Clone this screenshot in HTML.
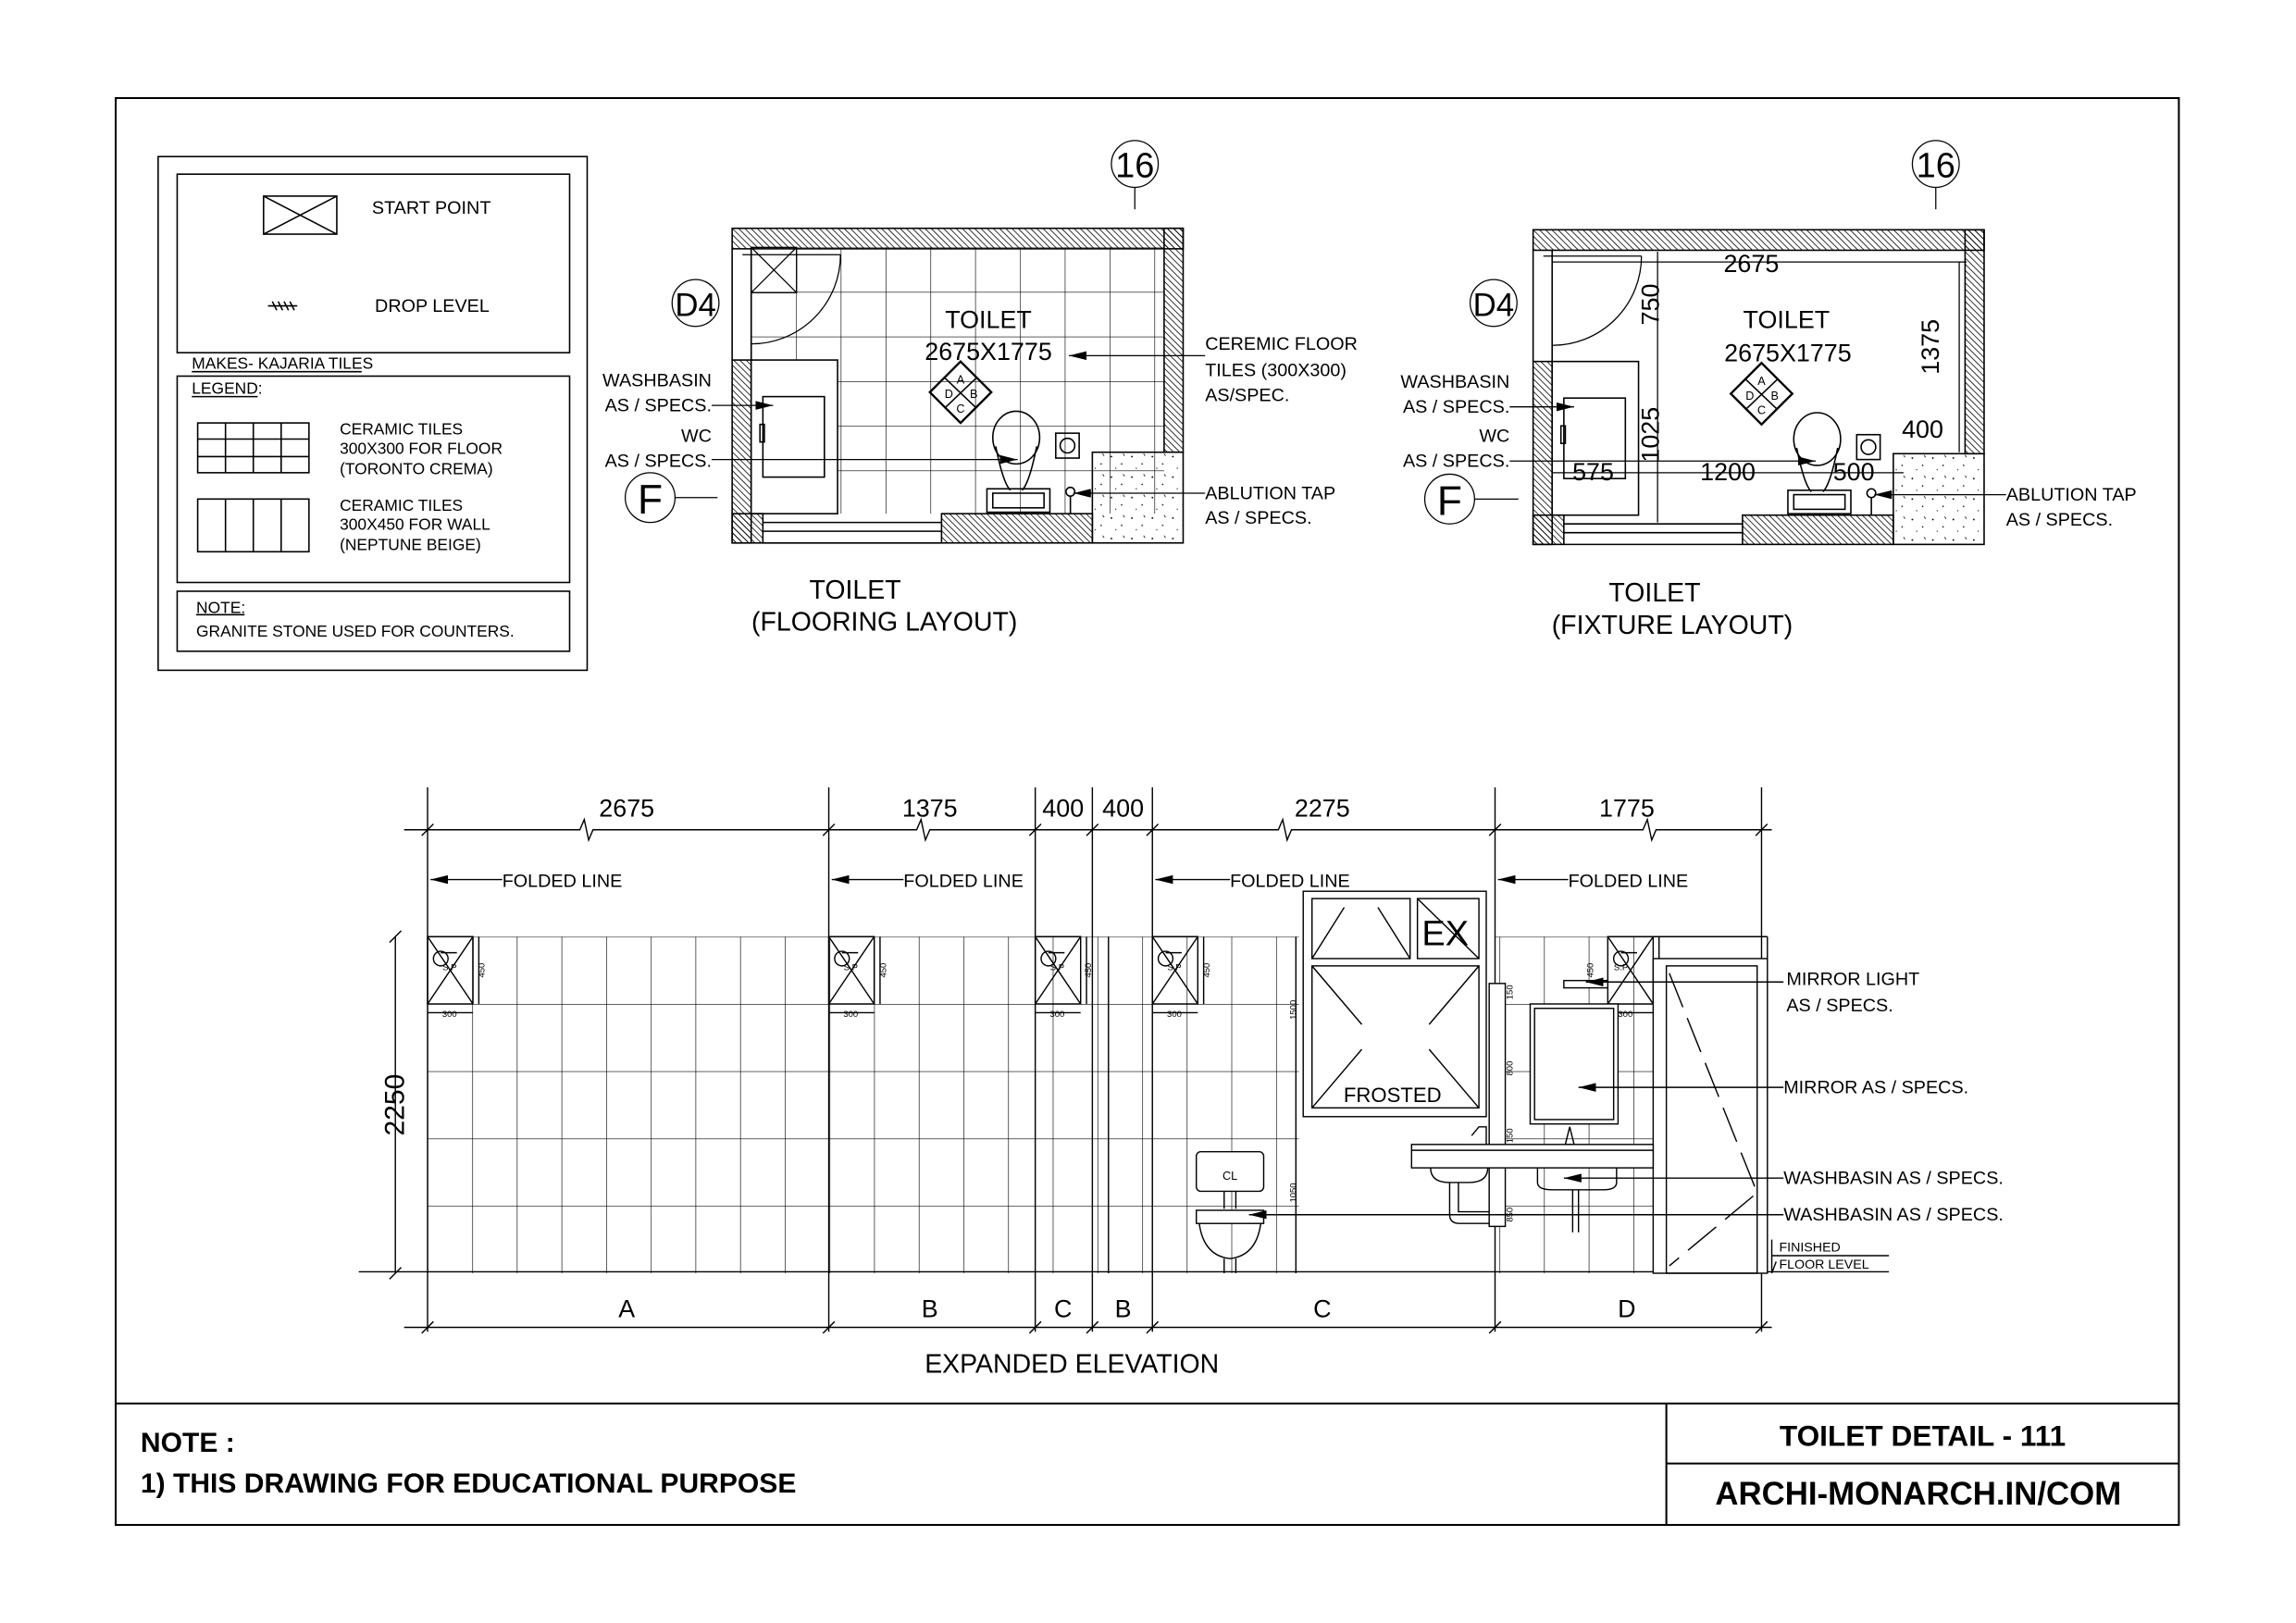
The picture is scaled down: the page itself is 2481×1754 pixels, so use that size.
<!DOCTYPE html>
<html><head><meta charset="utf-8"><style>
html,body{margin:0;padding:0;background:#fff}
svg{display:block}
text{font-family:"Liberation Sans Narrow","Liberation Sans",sans-serif;fill:#000}
.b{font-family:"Liberation Sans",sans-serif;font-weight:bold}
</style></head><body>
<svg width="2481" height="1754" viewBox="0 0 1568 1109" preserveAspectRatio="none" xmlns="http://www.w3.org/2000/svg">
<defs>
<pattern id="h" width="3" height="3" patternUnits="userSpaceOnUse" patternTransform="rotate(-45)"><line x1="0" y1="0" x2="0" y2="3" stroke="#000" stroke-width="1"/></pattern>
<pattern id="g" width="14" height="14" patternUnits="userSpaceOnUse"><circle cx="3" cy="4" r="0.6"/><circle cx="10" cy="9" r="0.5"/><circle cx="6" cy="12" r="0.4"/><path d="M11 2 l1 1.5" stroke="#000" stroke-width="0.5"/></pattern>
<pattern id="ft" x="513" y="169" width="30.6" height="30.5" patternUnits="userSpaceOnUse"><path d="M0 0V30.5M0 0H30.6" stroke="#000" stroke-width="0.8" fill="none"/></pattern>
<pattern id="et" x="292" y="640" width="30.5" height="46" patternUnits="userSpaceOnUse"><path d="M0 0V46M0 0H30.5" stroke="#000" stroke-width="0.8" fill="none"/></pattern>
<marker id="ar" markerWidth="12" markerHeight="6" refX="12" refY="3" orient="auto" markerUnits="userSpaceOnUse"><path d="M0 0L12 3L0 6z" fill="#000" stroke="none"/></marker>
<g id="plan" fill="none" stroke="#000" stroke-width="1">
 <rect x="500" y="156" width="308" height="14" fill="url(#h)"/>
 <rect x="795" y="156" width="13" height="153" fill="url(#h)"/>
 <rect x="500" y="246" width="13" height="125" fill="url(#h)"/>
 <rect x="643" y="351" width="103" height="20" fill="url(#h)"/>
 <rect x="500" y="351" width="21" height="20" fill="url(#h)"/>
 <rect x="746" y="309" width="62" height="62" fill="url(#g)"/>
 <path d="M500 170V246M521 357H643M521 363H643M521 371H643M513 170V246"/>
 <rect x="513" y="246" width="59" height="105"/>
 <rect x="521" y="271" width="42" height="55"/>
 <rect x="519" y="290" width="3" height="12"/>
 <path d="M507 174H574M574 174A61 61 0 0 1 513 235" stroke-width="0.8"/>
 <ellipse cx="694" cy="299" rx="16" ry="18"/>
 <path d="M680 305Q685 330 690 335M708 305Q703 330 698 335"/>
 <rect x="674" y="334" width="43" height="16"/><rect x="678" y="337" width="35" height="10"/>
 <rect x="721" y="296" width="16" height="17"/><circle cx="729" cy="304.5" r="5"/>
 <circle cx="731" cy="336" r="3"/><path d="M731 339V351"/>
 <path d="M656 247L677 268L656 289L635 268Z" stroke-width="1.5"/>
 <path d="M645 258L667 279M667 258L645 279"/>
</g>
</defs>

<!-- border -->
<rect x="79" y="67" width="1409" height="975" fill="none" stroke="#000" stroke-width="1.3"/>
<path d="M79 959H1488M1138 959V1042M1138 1000H1488" stroke="#000" stroke-width="1.3"/>
<text x="96" y="992" class="b" font-size="19">NOTE :</text>
<text x="96" y="1020" class="b" font-size="19">1) THIS DRAWING FOR EDUCATIONAL PURPOSE</text>
<text x="1313" y="988" class="b" font-size="20" text-anchor="middle">TOILET DETAIL - 111</text>
<text x="1310" y="1028" class="b" font-size="22" text-anchor="middle">ARCHI-MONARCH.IN/COM</text>

<!-- legend -->
<g fill="none" stroke="#000" stroke-width="1">
<rect x="108" y="107" width="293" height="351"/>
<rect x="121" y="119" width="268" height="122"/>
<rect x="121" y="257" width="268" height="141"/>
<rect x="121" y="404" width="268" height="41"/>
<rect x="180" y="134" width="50" height="26"/><path d="M180 134L230 160M230 134L180 160"/>
<path d="M183 209H203M186 206l3 6M190 206l3 6M194 206l3 6M198 206l3 6"/>
<rect x="135" y="289" width="76" height="34"/><path d="M154 289V323M173 289V323M192 289V323M135 300H211M135 312H211"/>
<rect x="135" y="341" width="76" height="36"/><path d="M154 341V377M173 341V377M192 341V377"/>
<path d="M131 254H247M131 271H176M134 420H167"/>
</g>
<g font-size="12.5">
<text x="254" y="146">START POINT</text>
<text x="256" y="213">DROP LEVEL</text>
<text x="131" y="252" font-size="11">MAKES- KAJARIA TILES</text>
<text x="131" y="269" font-size="11">LEGEND:</text>
<g font-size="11"><text x="232" y="297">CERAMIC TILES</text><text x="232" y="310">300X300 FOR FLOOR</text><text x="232" y="324">(TORONTO CREMA)</text>
<text x="232" y="349">CERAMIC TILES</text><text x="232" y="362">300X450 FOR WALL</text><text x="232" y="376">(NEPTUNE BEIGE)</text>
<text x="134" y="419">NOTE:</text><text x="134" y="435">GRANITE STONE USED FOR COUNTERS.</text></g>
</g>

<!-- flooring plan -->
<rect x="572" y="169" width="223" height="182" fill="url(#ft)"/>
<rect x="513" y="169" width="59" height="77" fill="url(#ft)"/>
<use href="#plan"/>
<g fill="none" stroke="#000" stroke-width="0.8">
<rect x="513" y="169" width="31" height="31"/><path d="M513 169L544 200M544 169L513 200"/>
<circle cx="775" cy="112" r="16"/><path d="M775 128V143"/>
<circle cx="475" cy="207" r="16"/><circle cx="444" cy="340" r="17"/><path d="M461 340H490"/>
<path d="M486 277H528" marker-end="url(#ar)"/>
<path d="M486 314H695" marker-end="url(#ar)"/>
<path d="M823 243H730" marker-end="url(#ar)"/>
<path d="M823 337H733" marker-end="url(#ar)"/>
</g>
<g font-size="17"><text x="775" y="121" text-anchor="middle" font-size="24">16</text>
<text x="475" y="216" text-anchor="middle" font-size="22">D4</text>
<text x="444" y="351" text-anchor="middle" font-size="28">F</text>
<text x="675" y="224" text-anchor="middle">TOILET</text><text x="675" y="246" text-anchor="middle">2675X1775</text></g>
<g font-size="12.5"><text x="486" y="264" text-anchor="end">WASHBASIN</text><text x="486" y="281" text-anchor="end">AS / SPECS.</text>
<text x="486" y="302" text-anchor="end">WC</text><text x="486" y="319" text-anchor="end">AS / SPECS.</text>
<text x="823" y="239">CEREMIC FLOOR</text><text x="823" y="257">TILES (300X300)</text><text x="823" y="274">AS/SPEC.</text>
<text x="823" y="341">ABLUTION TAP</text><text x="823" y="358">AS / SPECS.</text></g>
<g font-size="8" text-anchor="middle"><text x="656" y="262">A</text><text x="648" y="272">D</text><text x="665" y="272">B</text><text x="656" y="282">C</text></g>
<g font-size="18" text-anchor="middle"><text x="584" y="409">TOILET</text><text x="604" y="431">(FLOORING LAYOUT)</text></g>

<!-- fixture plan -->
<use href="#plan" transform="translate(547,1)"/>
<g fill="none" stroke="#000" stroke-width="0.8">
<path d="M1060 173V356M1132 172V357M1060 179H1343M1338 179V309M1060 323H1300"/>
<circle cx="1322" cy="112" r="16"/><path d="M1322 128V143"/>
<circle cx="1020" cy="207" r="16"/><circle cx="990" cy="341" r="17"/><path d="M1007 341H1037"/>
<path d="M1031 278H1075" marker-end="url(#ar)"/>
<path d="M1031 315H1240" marker-end="url(#ar)"/>
<path d="M1370 338H1280" marker-end="url(#ar)"/>
</g>
<g font-size="17"><text x="1322" y="121" text-anchor="middle" font-size="24">16</text>
<text x="1020" y="216" text-anchor="middle" font-size="22">D4</text>
<text x="990" y="352" text-anchor="middle" font-size="28">F</text>
<text x="1220" y="224" text-anchor="middle">TOILET</text><text x="1221" y="247" text-anchor="middle">2675X1775</text>
<text x="1196" y="186" text-anchor="middle">2675</text>
<text x="1088" y="328" text-anchor="middle">575</text><text x="1180" y="328" text-anchor="middle">1200</text><text x="1266" y="328" text-anchor="middle">500</text><text x="1313" y="299" text-anchor="middle">400</text>
<text transform="translate(1133,208) rotate(-90)" text-anchor="middle">750</text>
<text transform="translate(1324,237) rotate(-90)" text-anchor="middle">1375</text>
<text transform="translate(1133,297) rotate(-90)" text-anchor="middle">1025</text></g>
<g font-size="12.5"><text x="1031" y="265" text-anchor="end">WASHBASIN</text><text x="1031" y="282" text-anchor="end">AS / SPECS.</text>
<text x="1031" y="302" text-anchor="end">WC</text><text x="1031" y="319" text-anchor="end">AS / SPECS.</text>
<text x="1370" y="342">ABLUTION TAP</text><text x="1370" y="359">AS / SPECS.</text></g>
<g font-size="8" text-anchor="middle"><text x="1203" y="263">A</text><text x="1195" y="273">D</text><text x="1212" y="273">B</text><text x="1203" y="283">C</text></g>
<g font-size="18" text-anchor="middle"><text x="1130" y="411">TOILET</text><text x="1142" y="433">(FIXTURE LAYOUT)</text></g>

<!-- elevation -->
<rect x="292" y="640" width="595" height="230" fill="url(#et)"/>
<rect x="1021" y="640" width="108" height="230" fill="url(#et)"/>
<g fill="none" stroke="#000" stroke-width="0.9">
<path d="M292 538V910M566 538V910M707 538V910M746 538V910M787 538V910M1021 538V910M1203 538V910"/>
<path d="M276 567H396L399 560L402 574L405 567H626L629 560L632 574L635 567H873L876 560L879 574L882 567H1122L1125 560L1128 574L1131 567H1210"/>
<path d="M276 907H1210M270 640V870M245 869H1290M757 640V870M1129 640H1207M1207 640V870"/>
<path d="M288 571l8-8M562 571l8-8M703 571l8-8M742 571l8-8M783 571l8-8M1017 571l8-8M1199 571l8-8M288 911l8-8M562 911l8-8M703 911l8-8M742 911l8-8M783 911l8-8M1017 911l8-8M1199 911l8-8M266 644l8-8M266 874l8-8"/>
<path d="M343 601H294" marker-end="url(#ar)"/>
<path d="M617 601H568" marker-end="url(#ar)"/>
<path d="M840 601H789" marker-end="url(#ar)"/>
<path d="M1071 601H1023" marker-end="url(#ar)"/>
<!-- start points -->
<g id="sp"><rect x="292" y="640" width="31" height="46"/><path d="M292 640L323 686M323 640L292 686M327 640V686M292 692H323"/><circle cx="301" cy="655" r="5"/><path d="M301 651H312"/></g>
<use href="#sp" transform="translate(274,0)"/><use href="#sp" transform="translate(415,0)"/><use href="#sp" transform="translate(495,0)"/><use href="#sp" transform="translate(806,0)"/>
<!-- window -->
<rect x="890" y="609" width="125" height="154" fill="#fff"/>
<rect x="896" y="614" width="67" height="41"/><rect x="968" y="614" width="42" height="41"/><rect x="896" y="660" width="114" height="97"/>
<path d="M896 655L918 620M963 655L941 620M968 614L1010 655M896 660L930 700M1010 660L976 700M896 757L930 717M1010 757L976 717"/>
<path d="M885 640V870"/>
<!-- door -->
<rect x="1129" y="655" width="78" height="215" fill="#fff"/><rect x="1138" y="660" width="62" height="210"/>
<path d="M1140 665L1200 815L1140 865" stroke-dasharray="25 8"/>
<!-- mirror -->
<rect x="1045" y="686" width="60" height="82" fill="#fff"/><rect x="1048" y="689" width="54" height="76"/>
<rect x="1068" y="670" width="30" height="5" fill="#fff"/>
<rect x="1017" y="672" width="11" height="166" fill="#fff"/>
<!-- counter + basins -->
<rect x="964" y="782" width="165" height="16" fill="#fff"/><path d="M964 786H1129"/>
<path d="M977 798Q977 808 990 808H1003Q1016 808 1016 798M1050 798V808Q1050 813 1060 813H1095Q1104 813 1104 808V798"/>
<path d="M990 808V830Q990 836 997 836H1017M996 808V828H1017M1074 813V842M1078 813V842"/>
<path d="M1005 776L1010 770H1015V782M1072 770L1075 782H1069Z"/>
<!-- WC -->
<rect x="817" y="787" width="46" height="27" rx="3" fill="#fff"/><path d="M836 814V826M844 814V826"/>
<rect x="817" y="827" width="46" height="9" fill="#fff"/><path d="M819 836Q822 858 840 860Q858 858 861 836"/>
<path d="M836 860V870M844 860V870"/>
<path d="M1210 847V870M1210 858H1290M1213 862l-3 8"/>
<path d="M1218 671H1083" marker-end="url(#ar)"/>
<path d="M1218 743H1078" marker-end="url(#ar)"/>
<path d="M1218 805H1068" marker-end="url(#ar)"/>
<path d="M1218 830H853" marker-end="url(#ar)"/>
</g>
<g font-size="6" text-anchor="middle"><text x="307" y="663">S.P</text><text x="581" y="663">S.P</text><text x="722" y="663">S.P</text><text x="802" y="663">S.P</text><text x="1107" y="663">S.P</text>
<text x="307" y="695">300</text><text x="581" y="695">300</text><text x="722" y="695">300</text><text x="802" y="695">300</text><text x="1110" y="695">300</text>
<text transform="translate(331,663) rotate(-90)">450</text><text transform="translate(605,663) rotate(-90)">450</text><text transform="translate(745,663) rotate(-90)">450</text><text transform="translate(826,663) rotate(-90)">450</text><text transform="translate(1088,663) rotate(-90)">450</text>
<text transform="translate(885,690) rotate(-90)">1500</text><text transform="translate(885,815) rotate(-90)">1050</text>
<text transform="translate(1033,678) rotate(-90)">150</text><text transform="translate(1033,730) rotate(-90)">800</text><text transform="translate(1033,776) rotate(-90)">150</text><text transform="translate(1033,830) rotate(-90)">850</text>
<text x="840" y="806" font-size="8">CL</text></g>
<g font-size="17" text-anchor="middle"><text x="428" y="558">2675</text><text x="635" y="558">1375</text><text x="726" y="558">400</text><text x="767" y="558">400</text><text x="903" y="558">2275</text><text x="1111" y="558">1775</text>
<text x="428" y="900">A</text><text x="635" y="900">B</text><text x="726" y="900">C</text><text x="767" y="900">B</text><text x="903" y="900">C</text><text x="1111" y="900">D</text>
<text transform="translate(276,755) rotate(-90)" font-size="19">2250</text>
<text x="732" y="938" font-size="18">EXPANDED ELEVATION</text>
<text x="987" y="646" font-size="24">EX</text><text x="951" y="753" font-size="14">FROSTED</text></g>
<g font-size="12.5"><text x="343" y="606">FOLDED LINE</text><text x="617" y="606">FOLDED LINE</text><text x="840" y="606">FOLDED LINE</text><text x="1071" y="606">FOLDED LINE</text>
<text x="1220" y="673">MIRROR LIGHT</text><text x="1220" y="691">AS / SPECS.</text><text x="1218" y="747">MIRROR AS / SPECS.</text>
<text x="1218" y="809">WASHBASIN AS / SPECS.</text><text x="1218" y="834">WASHBASIN AS / SPECS.</text>
<text x="1215" y="855" font-size="9">FINISHED</text><text x="1215" y="867" font-size="9">FLOOR LEVEL</text></g>
</svg>
</body></html>
